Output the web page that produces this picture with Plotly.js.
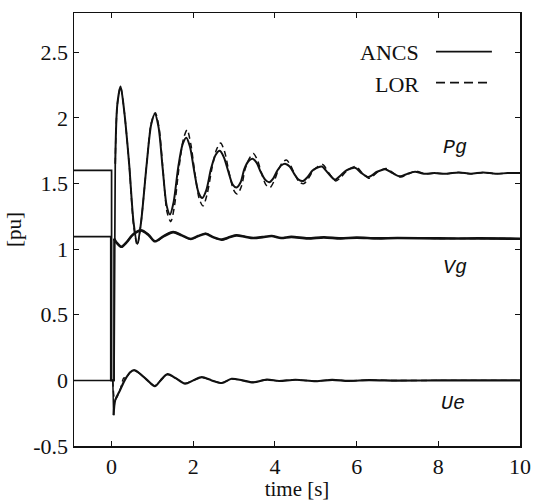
<!DOCTYPE html>
<html>
<head>
<meta charset="utf-8">
<script src="https://cdn.plot.ly/plotly-3.0.1.min.js"></script>
<style>html,body{margin:0;padding:0;background:#fff;}#chart{width:534px;height:501px;}</style>
</head>
<body>
<div id="chart"></div>
<script>
// ---- tick labels ----
const xTickVals = [0, 2, 4, 6, 8, 10];
const xTickText = ["0", "2", "4", "6", "8", "10"];
const yTickVals = [-0.5, 0, 0.5, 1, 1.5, 2, 2.5];
const yTickText = ["-0.5", "0", "0.5", "1", "1.5", "2", "2.5"];

// ---- legend / labels ----
const seriesNames = ["ANCS", "LOR"];
const signalLabels = ["Pg", "Vg", "Ue"];
const signalLabelX = [8.41, 8.41, 8.36];
const signalLabelY = [1.775, 0.857, -0.175];

// ---- Pg (generator power) ----
const pgPreT = [-0.92, 0, 0, 0.06, 0.09];
const pgPreV = [1.6, 1.6, 0, 0, 1.65];
const pgAncsT = [0.09,0.14,0.22,0.31,0.43,0.54,0.63,0.72,0.86,0.97,1.06,1.15,1.25,1.35,1.43,1.52,1.63,1.74,1.83,1.92,2.02,2.13,2.22,2.32,2.44,2.55,2.65,2.75,2.86,2.97,3.06,3.16,3.25,3.35,3.45,3.55,3.65,3.76,3.86,3.96,4.06,4.16,4.26,4.36,4.48,4.58,4.69,4.8,4.92,5.03,5.15,5.3,5.47,5.6,5.75,5.96,6.12,6.29,6.5,6.7,6.88,7.06,7.25,7.43,7.65,7.9,8.2,8.5,8.8,9.1,9.4,9.7,10];
const pgAncsV = [1.65,2.1,2.24,2.05,1.65,1.2,1.04,1.2,1.65,1.95,2.03,1.93,1.62,1.33,1.265,1.36,1.62,1.8,1.85,1.78,1.6,1.43,1.39,1.45,1.62,1.72,1.75,1.7,1.59,1.49,1.47,1.51,1.61,1.67,1.69,1.66,1.59,1.53,1.51,1.54,1.6,1.64,1.65,1.63,1.57,1.53,1.52,1.55,1.6,1.62,1.63,1.58,1.53,1.56,1.6,1.62,1.58,1.55,1.59,1.61,1.58,1.555,1.575,1.59,1.575,1.58,1.575,1.585,1.575,1.585,1.575,1.58,1.58];
const pgLorT = [0.09,0.14,0.22,0.31,0.43,0.54,0.63,0.72,0.86,0.97,1.07,1.16,1.26,1.36,1.45,1.54,1.65,1.76,1.85,1.94,2.04,2.15,2.24,2.34,2.46,2.57,2.67,2.77,2.88,2.99,3.08,3.18,3.27,3.37,3.47,3.57,3.67,3.78,3.88,3.98,4.08,4.18,4.28,4.38,4.5,4.6,4.71,4.82,4.94,5.05,5.17,5.32,5.49,5.62,5.77,5.98,6.14,6.31,6.52,6.72,6.9,7.08,7.27,7.45,7.67,7.92,8.2,8.5,8.8,9.1,9.4,9.7,10];
const pgLorV = [1.65,2.1,2.24,2.05,1.65,1.18,1.03,1.2,1.65,1.96,2.04,1.93,1.6,1.28,1.21,1.33,1.62,1.84,1.91,1.8,1.58,1.38,1.33,1.42,1.62,1.76,1.81,1.74,1.58,1.45,1.42,1.48,1.61,1.69,1.73,1.68,1.58,1.49,1.47,1.52,1.6,1.66,1.68,1.64,1.56,1.51,1.5,1.54,1.6,1.63,1.645,1.58,1.52,1.55,1.6,1.63,1.58,1.54,1.59,1.615,1.58,1.55,1.575,1.595,1.575,1.58,1.575,1.585,1.575,1.585,1.575,1.58,1.58];

// ---- Vg (generator voltage) ----
const vgPreT = [-0.92, -0.02, -0.02, 0.06, 0.06];
const vgPreV = [1.095, 1.095, 0, 0, 1.08];
const vgAncsT = [0.06,0.12,0.24,0.36,0.52,0.72,0.9,1.06,1.28,1.51,1.72,1.94,2.12,2.3,2.5,2.7,2.9,3.06,3.27,3.47,3.7,3.92,4.15,4.4,4.8,5.2,5.6,6.0,6.5,7.0,8.0,9.0,10];
const vgAncsV = [1.08,1.05,1.018,1.05,1.11,1.143,1.11,1.06,1.1,1.13,1.105,1.078,1.1,1.118,1.09,1.073,1.092,1.105,1.095,1.085,1.092,1.1,1.085,1.094,1.082,1.09,1.082,1.088,1.082,1.085,1.082,1.082,1.08];
const vgLorT = vgAncsT;
const vgLorV = [1.08,1.05,1.015,1.05,1.11,1.145,1.11,1.055,1.1,1.132,1.105,1.075,1.1,1.12,1.09,1.07,1.092,1.107,1.095,1.083,1.092,1.101,1.085,1.094,1.082,1.09,1.082,1.088,1.082,1.085,1.082,1.082,1.08];

// ---- Ue (exciter/stabiliser output) ----
const uePreT = [-0.92, 0.03, 0.05];
const uePreV = [0, 0, -0.265];
const ueAncsT = [0.05,0.09,0.2,0.32,0.45,0.55,0.7,0.88,1.06,1.2,1.37,1.58,1.8,2.0,2.21,2.45,2.7,2.94,3.2,3.47,3.8,4.1,4.5,5.0,5.4,5.8,6.3,7.0,8.0,10];
const ueAncsV = [-0.265,-0.15,-0.08,0.0,0.06,0.078,0.05,0.0,-0.045,0.0,0.048,0.015,-0.025,0.0,0.025,0.0,-0.02,0.012,0.0,-0.015,0.006,-0.005,0.005,-0.006,0.004,-0.004,0.002,-0.002,0.0,0.0];
const ueLorT = [0.03,0.08,0.13,0.22,0.3,0.36,0.45,0.55,0.7,0.88,1.06,1.2,1.37,1.58,1.8,2.0,2.21,2.45,2.7,2.94,3.2,3.47,3.8,4.1,4.5,5.0,5.4,5.8,6.3,7.0,8.0,10];
const ueLorV = [0,-0.15,-0.13,-0.06,0.02,0.015,0.06,0.075,0.05,0.0,-0.04,0.0,0.045,0.015,-0.022,0.0,0.023,0.0,-0.018,0.01,0.0,-0.013,0.005,-0.004,0.004,-0.005,0.003,-0.003,0.002,-0.001,0.0,0.0];

const INK = "#111111";
function seg(x, y, dash, shape, w) {
  return {x: x, y: y, type: "scatter", mode: "lines", showlegend: false, hoverinfo: "skip",
    line: {color: INK, width: w || 1.8, dash: dash, shape: shape, smoothing: 0.8}};
}

const traces = [
  seg(pgPreT, pgPreV, "solid", "linear", 1.7),
  seg(vgPreT, vgPreV, "solid", "linear", 1.7),
  seg(uePreT, uePreV, "solid", "linear", 1.5),
  seg(pgLorT, pgLorV, "6px,4px", "spline", 1.5),
  seg(vgLorT, vgLorV, "6px,4px", "spline", 1.5),
  seg(ueLorT, ueLorV, "6px,4px", "spline", 1.4),
  seg(pgAncsT, pgAncsV, "solid", "spline", 2.0),
  seg(vgAncsT, vgAncsV, "solid", "spline", 2.6),
  seg(ueAncsT, ueAncsV, "solid", "spline", 2.1)
];

const serif = "Liberation Serif";
const annotations = [];
for (let i = 0; i < signalLabels.length; i++) {
  annotations.push({x: signalLabelX[i], y: signalLabelY[i], xref: "x", yref: "y",
    text: "<i>" + signalLabels[i] + "</i>", showarrow: false,
    font: {family: "Liberation Mono", size: 20, color: INK}});
}
const legY = [0.909, 0.835];
for (let i = 0; i < seriesNames.length; i++) {
  annotations.push({x: 0.778, y: legY[i], xref: "paper", yref: "paper", xanchor: "right", yanchor: "middle",
    text: seriesNames[i], showarrow: false, font: {family: serif, size: 22, color: INK}});
}
const shapes = [
  {type: "line", xref: "paper", yref: "paper", x0: 0.8117, x1: 0.937, y0: legY[0] + 0.002, y1: legY[0] + 0.002,
   line: {color: INK, width: 1.8, dash: "solid"}},
  {type: "line", xref: "paper", yref: "paper", x0: 0.8117, x1: 0.937, y0: legY[1] + 0.004, y1: legY[1] + 0.004,
   line: {color: INK, width: 1.8, dash: "9px,5px"}}
];

const layout = {
  width: 534, height: 501,
  margin: {l: 74, r: 14, t: 13, b: 55},
  paper_bgcolor: "#ffffff", plot_bgcolor: "#ffffff",
  showlegend: false,
  font: {family: serif, size: 21, color: INK},
  xaxis: {
    range: [-0.92, 10], tickmode: "array", tickvals: xTickVals, ticktext: xTickText,
    showgrid: false, zeroline: false, showline: true, linecolor: INK, linewidth: 1.5,
    mirror: "ticks", ticks: "inside", ticklen: 5, tickwidth: 1, tickcolor: INK,
    tickfont: {family: serif, size: 22, color: INK},
    title: {text: "time [s]", font: {family: serif, size: 21, color: INK}, standoff: 2}
  },
  yaxis: {
    range: [-0.5, 2.8], tickmode: "array", tickvals: yTickVals, ticktext: yTickText,
    showgrid: false, zeroline: false, showline: true, linecolor: INK, linewidth: 1.5,
    mirror: "ticks", ticks: "inside", ticklen: 5, tickwidth: 1, tickcolor: INK,
    tickfont: {family: serif, size: 22, color: INK},
    title: {text: "[pu]", font: {family: serif, size: 21, color: INK}, standoff: 6}
  },
  annotations: annotations,
  shapes: shapes
};

Plotly.newPlot("chart", traces, layout, {staticPlot: true, displayModeBar: false});
</script>
</body>
</html>
